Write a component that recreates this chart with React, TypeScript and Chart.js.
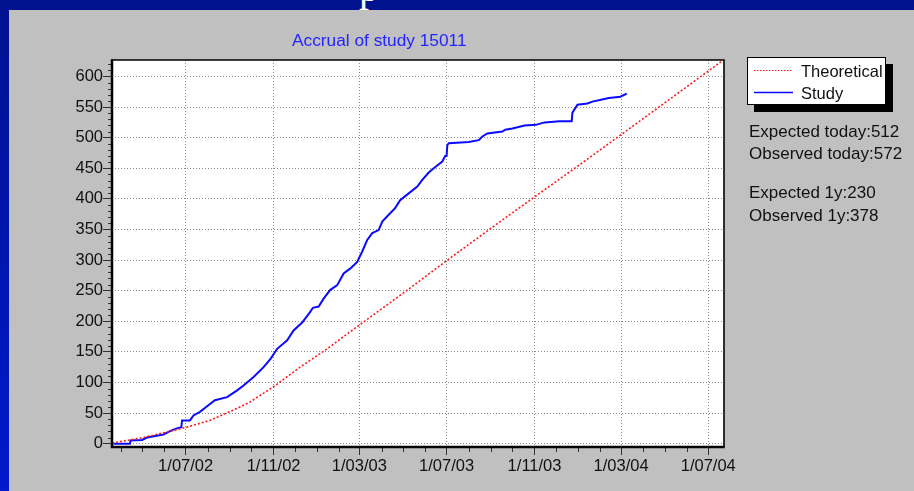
import { useEffect, useRef } from 'react';
import { Chart, registerables } from 'chart.js';

Chart.register(...registerables);

// ---- Data ----
const studyDates = [
  '2002-03-22', '2002-04-14', '2002-04-15', '2002-05-01', '2002-05-08', '2002-05-31',
  '2002-06-12', '2002-06-19', '2002-06-25', '2002-06-26', '2002-07-07', '2002-07-12',
  '2002-07-21', '2002-07-31', '2002-08-11', '2002-08-28', '2002-09-11', '2002-09-20',
  '2002-10-04', '2002-10-18', '2002-10-28', '2002-11-06', '2002-11-20', '2002-11-29',
  '2002-12-11', '2002-12-22', '2002-12-26', '2003-01-03', '2003-01-10', '2003-01-19',
  '2003-01-29', '2003-02-07', '2003-02-16', '2003-02-26', '2003-03-05', '2003-03-12',
  '2003-03-19', '2003-03-28', '2003-04-02', '2003-04-11', '2003-04-20', '2003-04-27',
  '2003-05-09', '2003-05-21', '2003-05-28', '2003-06-06', '2003-06-13', '2003-06-25',
  '2003-06-29', '2003-07-01', '2003-07-02', '2003-07-04', '2003-08-01', '2003-08-15',
  '2003-08-20', '2003-08-27', '2003-09-17', '2003-09-21', '2003-10-01', '2003-10-18',
  '2003-11-03', '2003-11-15', '2003-12-06', '2003-12-23', '2003-12-24', '2003-12-31',
  '2004-01-14', '2004-01-21', '2004-02-02', '2004-02-13', '2004-02-29', '2004-03-09',
];
const studyValues = [
  0, 0, 5, 6, 10, 15,
  22, 25, 27, 38, 38, 46,
  52, 61, 71, 76, 87, 95,
  109, 125, 139, 155, 169, 185,
  198, 215, 222, 224, 237, 251,
  259, 278, 286, 297, 314, 333,
  344, 349, 363, 374, 385, 398,
  409, 420, 431, 443, 450, 461,
  470, 470, 488, 491, 493, 496,
  502, 507, 510, 513, 515, 520,
  521, 525, 527, 527, 541, 554,
  556, 559, 562, 565, 567, 572,
];

const theoreticalDates = [
  '2002-03-20', '2002-05-03', '2002-06-05', '2002-07-03', '2002-08-04', '2002-09-06',
  '2002-09-29', '2002-11-01', '2002-12-08', '2003-01-15', '2003-02-14', '2003-05-06',
  '2003-07-01', '2003-09-14', '2004-01-14', '2004-03-27', '2004-07-21',
];
const theoreticalValues = [
  1, 10, 19, 27, 38, 55,
  68, 93, 125, 155, 181, 250,
  299, 363, 465, 527, 626,
];

const xTickDates = ['2002-07-01', '2002-11-01', '2003-03-01', '2003-07-01', '2003-11-01', '2004-03-01', '2004-07-01'];
const xTickLabels = ['1/07/02', '1/11/02', '1/03/03', '1/07/03', '1/11/03', '1/03/04', '1/07/04'];
const xMinDate = '2002-03-20';
const xMaxDate = '2004-07-23';
const yTickValues = [0, 50, 100, 150, 200, 250, 300, 350, 400, 450, 500, 550, 600];
const yMin = -5.5;
const yMax = 627;

const chartTitle = 'Accrual of study 15011';
const legendLabels = ['Theoretical', 'Study'];
const infoLines = ['Expected today:512', 'Observed today:572', 'Expected 1y:230', 'Observed 1y:378'];

// ---- helpers ----
const EPOCH = Date.UTC(2002, 6, 1);
function toDay(s: string): number {
  const [y, m, d] = s.split('-').map(Number);
  return (Date.UTC(y, m - 1, d) - EPOCH) / 86400000;
}

function monthStarts(): number[] {
  const out: number[] = [];
  const majors = new Set(xTickDates.map(toDay));
  for (let y = 2002; y <= 2004; y++) {
    for (let m = 1; m <= 12; m++) {
      const t = (Date.UTC(y, m - 1, 1) - EPOCH) / 86400000;
      if (t >= toDay(xMinDate) && t <= toDay(xMaxDate) && !majors.has(t)) out.push(t);
    }
  }
  return out;
}

const FONT = "'Liberation Sans', Arial, Helvetica, sans-serif";

const framePlugin = {
  id: 'frame',
  beforeDraw(chart: any) {
    const { ctx, chartArea: a } = chart;
    ctx.save();
    ctx.fillStyle = '#ffffff';
    ctx.fillRect(a.left, a.top, a.right - a.left, a.bottom - a.top);
    ctx.restore();
  },
  afterDraw(chart: any) {
    const { ctx, chartArea: a, scales } = chart;
    const x = scales.x;
    const y = scales.y;
    ctx.save();
    ctx.strokeStyle = '#333333';
    ctx.lineWidth = 1;
    ctx.beginPath();
    for (const d of monthStarts()) {
      const px = Math.round(x.getPixelForValue(d)) + 0.5;
      ctx.moveTo(px, a.bottom);
      ctx.lineTo(px, a.bottom + 5);
    }
    for (let v = 10; v <= 620; v += 10) {
      if (v % 50 === 0) continue;
      const py = Math.round(y.getPixelForValue(v)) + 0.5;
      ctx.moveTo(a.left - 4, py);
      ctx.lineTo(a.left, py);
    }
    ctx.stroke();

    ctx.strokeStyle = '#000000';
    ctx.lineWidth = 1.6;
    ctx.beginPath();
    ctx.moveTo(a.left, a.top);
    ctx.lineTo(a.right, a.top);
    ctx.lineTo(a.right, a.bottom);
    ctx.stroke();
    ctx.lineWidth = 2.5;
    ctx.beginPath();
    ctx.moveTo(a.left, a.top - 0.8);
    ctx.lineTo(a.left, a.bottom);
    ctx.lineTo(a.right + 0.8, a.bottom);
    ctx.stroke();
    ctx.restore();
  },
};

export default function App() {
  const canvasRef = useRef<HTMLCanvasElement | null>(null);

  useEffect(() => {
    if (!canvasRef.current) return;
    const chart = new Chart(canvasRef.current, {
      type: 'line',
      data: {
        datasets: [
          {
            label: legendLabels[0],
            data: theoreticalDates.map((d, i) => ({ x: toDay(d), y: theoreticalValues[i] })),
            borderColor: '#ff1a1a',
            borderWidth: 1.6,
            borderDash: [2, 2],
            pointRadius: 0,
            fill: false,
            tension: 0,
          },
          {
            label: legendLabels[1],
            data: studyDates.map((d, i) => ({ x: toDay(d), y: studyValues[i] })),
            borderColor: '#0a0aff',
            borderWidth: 2,
            pointRadius: 0,
            fill: false,
            tension: 0,
          },
        ],
      },
      options: {
        animation: false,
        responsive: false,
        layout: { padding: { left: 0, top: 60, right: 190, bottom: 0 } },
        plugins: {
          legend: { display: false },
          title: { display: false },
          tooltip: { enabled: false },
        },
        scales: {
          x: {
            type: 'linear',
            min: toDay(xMinDate),
            max: toDay(xMaxDate),
            afterBuildTicks: (s: any) => {
              s.ticks = xTickDates.map((d) => ({ value: toDay(d) }));
            },
            afterFit: (s: any) => {
              s.height = 44;
            },
            ticks: {
              autoSkip: false,
              maxRotation: 0,
              padding: 2,
              color: '#111111',
              font: { family: FONT, size: 16.5 },
              callback: (_v: any, i: number) => xTickLabels[i],
            },
            grid: { color: '#8a8a8a', lineWidth: 1, tickLength: 8, tickColor: '#333333' },
            border: { display: false, dash: [1, 2] },
          },
          y: {
            type: 'linear',
            min: yMin,
            max: yMax,
            afterBuildTicks: (s: any) => {
              s.ticks = yTickValues.map((v) => ({ value: v }));
            },
            afterFit: (s: any) => {
              s.width = 112;
            },
            ticks: {
              padding: 0,
              color: '#111111',
              font: { family: FONT, size: 16.5 },
              callback: (v: any) => String(v),
            },
            grid: { color: '#8a8a8a', lineWidth: 1, tickLength: 9, tickColor: '#333333' },
            border: { display: false, dash: [1, 2] },
          },
        },
      } as any,
      plugins: [framePlugin],
    });
    return () => chart.destroy();
  }, []);

  const txt = (text: string, left: number, centerY: number, size: number, color = '#111111') => (
    <div
      key={text}
      style={{
        position: 'absolute',
        left,
        top: centerY - 10,
        height: 20,
        lineHeight: '20px',
        fontFamily: FONT,
        fontSize: size,
        color,
        whiteSpace: 'nowrap',
      }}
    >
      {text}
    </div>
  );

  const infoCenters = [131.7, 154.3, 193.3, 215.7];

  return (
    <div
      style={{
        position: 'fixed',
        left: 0,
        top: 0,
        width: 914,
        height: 491,
        overflow: 'hidden',
        background: 'linear-gradient(180deg, #00128e 0%, #0016b4 60%, #001acc 100%)',
      }}
    >
      <svg width={914} height={10} style={{ position: 'absolute', left: 0, top: 0 }}>
        <text x={359} y={0.5} fontFamily="'Liberation Serif', 'Times New Roman', serif" fontSize={40} fill="#ffffff">
          p
        </text>
      </svg>
      <div style={{ position: 'absolute', left: 9, top: 10, right: 0, bottom: 0, background: '#c0c0c0' }} />
      <canvas ref={canvasRef} width={914} height={491} style={{ position: 'absolute', left: 0, top: 0 }} />
      {txt(chartTitle, 292, 40, 17.3, '#2424ff')}
      <div
        style={{
          position: 'absolute',
          left: 747,
          top: 57,
          width: 139,
          height: 48,
          boxSizing: 'border-box',
          border: '1px solid #000',
          background: '#ffffff',
          boxShadow: '7px 7px 0 #000',
        }}
      />
      <svg width={914} height={491} style={{ position: 'absolute', left: 0, top: 0, pointerEvents: 'none' }}>
        <line x1={754} y1={70.5} x2={793} y2={70.5} stroke="#ff1a1a" strokeWidth={1} strokeDasharray="1.5 1.5" />
        <line x1={754} y1={92.5} x2={793} y2={92.5} stroke="#0a0aff" strokeWidth={1.5} />
      </svg>
      {txt(legendLabels[0], 801, 70.7, 16.5)}
      {txt(legendLabels[1], 801, 92.7, 16.5)}
      {infoLines.map((t, i) => txt(t, 749, infoCenters[i], 17))}
    </div>
  );
}
